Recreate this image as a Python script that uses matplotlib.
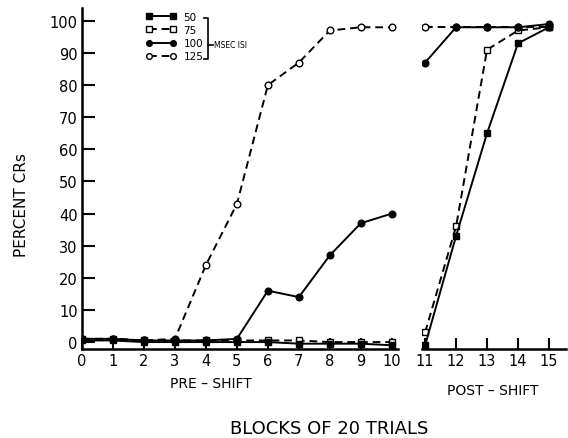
import matplotlib
matplotlib.use("Agg")
import matplotlib.pyplot as plt
from matplotlib.lines import Line2D

plt.rcParams['font.family'] = ['DejaVu Sans']

# ---- data ----
pre_blocks = [0, 1, 2, 3, 4, 5, 6, 7, 8, 9, 10]
post_blocks = [11, 12, 13, 14, 15]

isi_labels = ["50", "75", "100", "125"]

pre_50 = [0.5, 0.5, 0, 0, 0, 0, 0, -0.5, -0.5, -0.5, -1]
pre_75 = [1, 1, 0.5, 0.5, 0.5, 0.5, 0.5, 0.5, 0, 0, 0]
pre_100 = [1, 1, 0.5, 0.5, 0.5, 1, 16, 14, 27, 37, 40]
pre_125 = [1, 1, 0.5, 1, 24, 43, 80, 87, 97, 98, 98]

post_50 = [-1, 33, 65, 93, 98]
post_75 = [3, 36, 91, 97, 98]
post_100 = [87, 98, 98, 98, 99]
post_125 = [98, 98, 98, 98, 98]

y_ticks = [0, 10, 20, 30, 40, 50, 60, 70, 80, 90, 100]

W, H = 568, 439
fig = plt.figure(figsize=(W / 100, H / 100), dpi=100)

ybot, ytop = 349.5, 9
axL = fig.add_axes([82 / W, (H - ybot) / H, 316 / W, (ybot - ytop) / H])
axR = fig.add_axes([422 / W, (H - ybot) / H, 144 / W, (ybot - ytop) / H])

lw = 1.4
ms = 4.8
styles = {
    "50": dict(color="black", ls="-", marker="s", mfc="black", mec="black", zorder=4),
    "75": dict(color="black", ls=(0, (4, 2.5)), marker="s", mfc="white", mec="black", zorder=3),
    "100": dict(color="black", ls="-", marker="o", mfc="black", mec="black", zorder=4),
    "125": dict(color="black", ls=(0, (4, 2.5)), marker="o", mfc="white", mec="black", zorder=3),
}
pre = {"50": pre_50, "75": pre_75, "100": pre_100, "125": pre_125}
post = {"50": post_50, "75": post_75, "100": post_100, "125": post_125}

handles = []
for lab in isi_labels:
    st = styles[lab]
    h, = axL.plot(pre_blocks, pre[lab], lw=lw, ms=ms, mew=1.0, label=lab, **st)
    axR.plot(post_blocks, post[lab], lw=lw, ms=ms, mew=1.0, **st)
    handles.append(h)

for ax in (axL, axR):
    ax.set_ylim(-2, 104)
    ax.spines['top'].set_visible(False)
    ax.spines['right'].set_visible(False)
    ax.spines['bottom'].set_linewidth(1.8)
    ax.spines['left'].set_linewidth(1.8)
    ax.tick_params(axis='x', direction='in', length=8, width=1.5, labelsize=10.5, pad=3)
    ax.tick_params(axis='y', direction='in', length=9, width=1.5, labelsize=10.5, pad=3)

axL.set_xlim(0, 10.2)
axL.set_xticks(pre_blocks)
axL.set_yticks(y_ticks)

axR.set_xlim(10.9, 15.55)
axR.set_xticks(post_blocks)
axR.spines['left'].set_visible(False)
axR.set_yticks([])

# legend
leg = fig.legend(handles=handles, labels=isi_labels, loc='upper left',
                 bbox_to_anchor=(146 / W, 1 - 13 / H), bbox_transform=fig.transFigure,
                 frameon=False, fontsize=7.5, numpoints=2, handlelength=2.9,
                 handletextpad=0.7, labelspacing=0.3, borderpad=0, borderaxespad=0,
                 markerscale=0.85)

# bracket
def fx(px):
    return px / W

def fy(py):
    return 1 - py / H

bx = 208
fig.add_artist(Line2D([fx(bx - 4), fx(bx), fx(bx), fx(bx - 4)],
                      [fy(19), fy(19), fy(60), fy(60)], color="black", lw=1.2))
fig.add_artist(Line2D([fx(bx), fx(bx + 5)], [fy(46), fy(46)], color="black", lw=1.2))
fig.text(fx(bx + 6), fy(46), "MSEC ISI", fontsize=5.5, va='center', ha='left')

fig.text(22 / W, fy(205), "PERCENT CRs", rotation=90, fontsize=11, ha='center', va='center')
fig.text(fx(211), fy(384), "PRE \u2013 SHIFT", fontsize=10, ha='center', va='center')
fig.text(fx(493), fy(391), "POST \u2013 SHIFT", fontsize=10, ha='center', va='center')
fig.text(fx(329), fy(429), "BLOCKS OF 20 TRIALS", fontsize=13, ha='center', va='center')

fig.savefig("out.png", dpi=100)
